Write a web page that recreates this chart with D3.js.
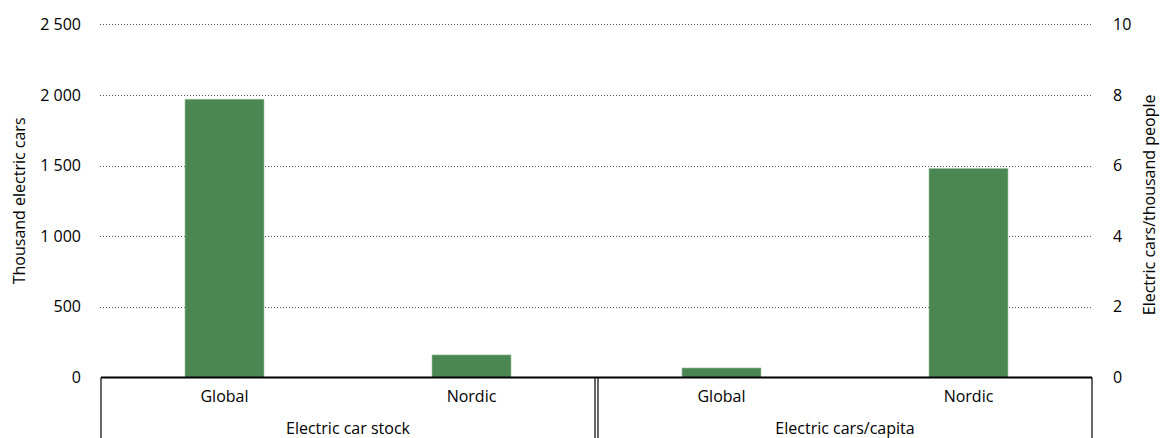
<!DOCTYPE html>
<html>
<head>
<meta charset="utf-8">
<script src="https://cdn.jsdelivr.net/npm/d3@7"></script>
<style>
  html, body { margin: 0; padding: 0; background: #fff; }
  svg { display: block; font-family: "Open Sans", "Noto Sans", sans-serif; }
</style>
</head>
<body>
<svg id="chart" width="1161" height="438"></svg>
<script>
// ---- data ----
const groups = ["Electric car stock", "Electric cars/capita"];
const categories = ["Global", "Nordic"];
const stockValues = [1970, 160];        // thousand electric cars (left axis)
const perCapitaValues = [0.27, 5.92];   // electric cars per thousand people (right axis)
const leftTicks = [0, 500, 1000, 1500, 2000, 2500];
const rightTicks = [0, 2, 4, 6, 8, 10];
const leftTitle = "Thousand electric cars";
const rightTitle = "Electric cars/thousand people";

// ---- layout ----
const W = 1161, H = 438;
const plotL = 101, plotR = 1092, plotT = 24.3, plotB = 377.5;
const barColor = "#4a8752";

const svg = d3.select("#chart");

const yL = d3.scaleLinear().domain([0, 2500]).range([plotB, plotT]);
const yR = d3.scaleLinear().domain([0, 10]).range([plotB, plotT]);

const xOuter = d3.scaleBand().domain(groups).range([plotL, plotR]).paddingInner(0.006);
const xInner = d3.scaleBand().domain(categories).range([0, xOuter.bandwidth()])
  .paddingInner(0.68).paddingOuter(0.34);

const loc = d3.formatLocale({ decimal: ".", thousands: " ", grouping: [3], currency: ["", ""] });
const fmt = loc.format(",");

// gridlines (dotted)
svg.append("g").selectAll("line")
  .data(leftTicks.filter(d => d > 0))
  .join("line")
  .attr("x1", plotL - 1).attr("x2", plotR)
  .attr("y1", d => Math.round(yL(d)) + 0.5).attr("y2", d => Math.round(yL(d)) + 0.5)
  .attr("stroke", "#555").attr("stroke-width", 1)
  .attr("stroke-dasharray", "1,2");

// left axis labels
const axL = svg.append("g").attr("transform", `translate(${plotL - 20},0)`)
  .call(d3.axisLeft(yL).tickValues(leftTicks).tickFormat(fmt).tickSize(0).tickPadding(0));
axL.select(".domain").remove();
axL.selectAll("text").attr("font-size", 16).attr("fill", "#000")
  .attr("font-family", "'Open Sans', sans-serif");

// right axis labels
const axR = svg.append("g").attr("transform", `translate(${plotR + 21},0)`)
  .call(d3.axisRight(yR).tickValues(rightTicks).tickFormat(d3.format("d")).tickSize(0).tickPadding(0));
axR.select(".domain").remove();
axR.selectAll("text").attr("font-size", 16).attr("fill", "#000")
  .attr("font-family", "'Open Sans', sans-serif");

// bars
const barData = [
  ...categories.map((c, i) => ({ g: groups[0], c, v: stockValues[i], y: yL })),
  ...categories.map((c, i) => ({ g: groups[1], c, v: perCapitaValues[i], y: yR }))
];
svg.append("g").selectAll("rect")
  .data(barData)
  .join("rect")
  .attr("x", d => xOuter(d.g) + xInner(d.c))
  .attr("width", xInner.bandwidth())
  .attr("y", d => d.y(d.v))
  .attr("height", d => plotB - d.y(d.v))
  .attr("fill", barColor)
  .attr("stroke", "#a9c8ad").attr("stroke-width", 0.6);

// category box lines
const box = svg.append("g").attr("stroke", "#000").attr("fill", "none");
box.append("line").attr("x1", plotL).attr("x2", plotR).attr("y1", plotB).attr("y2", plotB)
  .attr("stroke-width", 1.8);
const vx = [plotL, xOuter(groups[0]) + xOuter.bandwidth(), xOuter(groups[1]), plotR];
box.selectAll("line.v").data(vx).join("line").attr("class", "v")
  .attr("stroke-width", 1.2)
  .attr("x1", d => d).attr("x2", d => d).attr("y1", plotB).attr("y2", H);

// category labels
svg.append("g").selectAll("text")
  .data(barData)
  .join("text")
  .attr("x", d => xOuter(d.g) + xInner(d.c) + xInner.bandwidth() / 2)
  .attr("y", 396).attr("dy", "0.35em")
  .attr("text-anchor", "middle").attr("font-size", 16)
  .text(d => d.c);

// group labels
svg.append("g").selectAll("text")
  .data(groups)
  .join("text")
  .attr("x", d => xOuter(d) + xOuter.bandwidth() / 2)
  .attr("y", 428).attr("dy", "0.35em")
  .attr("text-anchor", "middle").attr("font-size", 16)
  .text(d => d);

// axis titles
svg.append("text")
  .attr("transform", `translate(19,${(plotT + plotB) / 2}) rotate(-90)`)
  .attr("text-anchor", "middle").attr("dy", "0.35em").attr("font-size", 16)
  .text(leftTitle);
svg.append("text")
  .attr("transform", `translate(1149,${(plotT + plotB) / 2 + 4}) rotate(-90)`)
  .attr("text-anchor", "middle").attr("dy", "0.35em").attr("font-size", 16)
  .text(rightTitle);
</script>
</body>
</html>
